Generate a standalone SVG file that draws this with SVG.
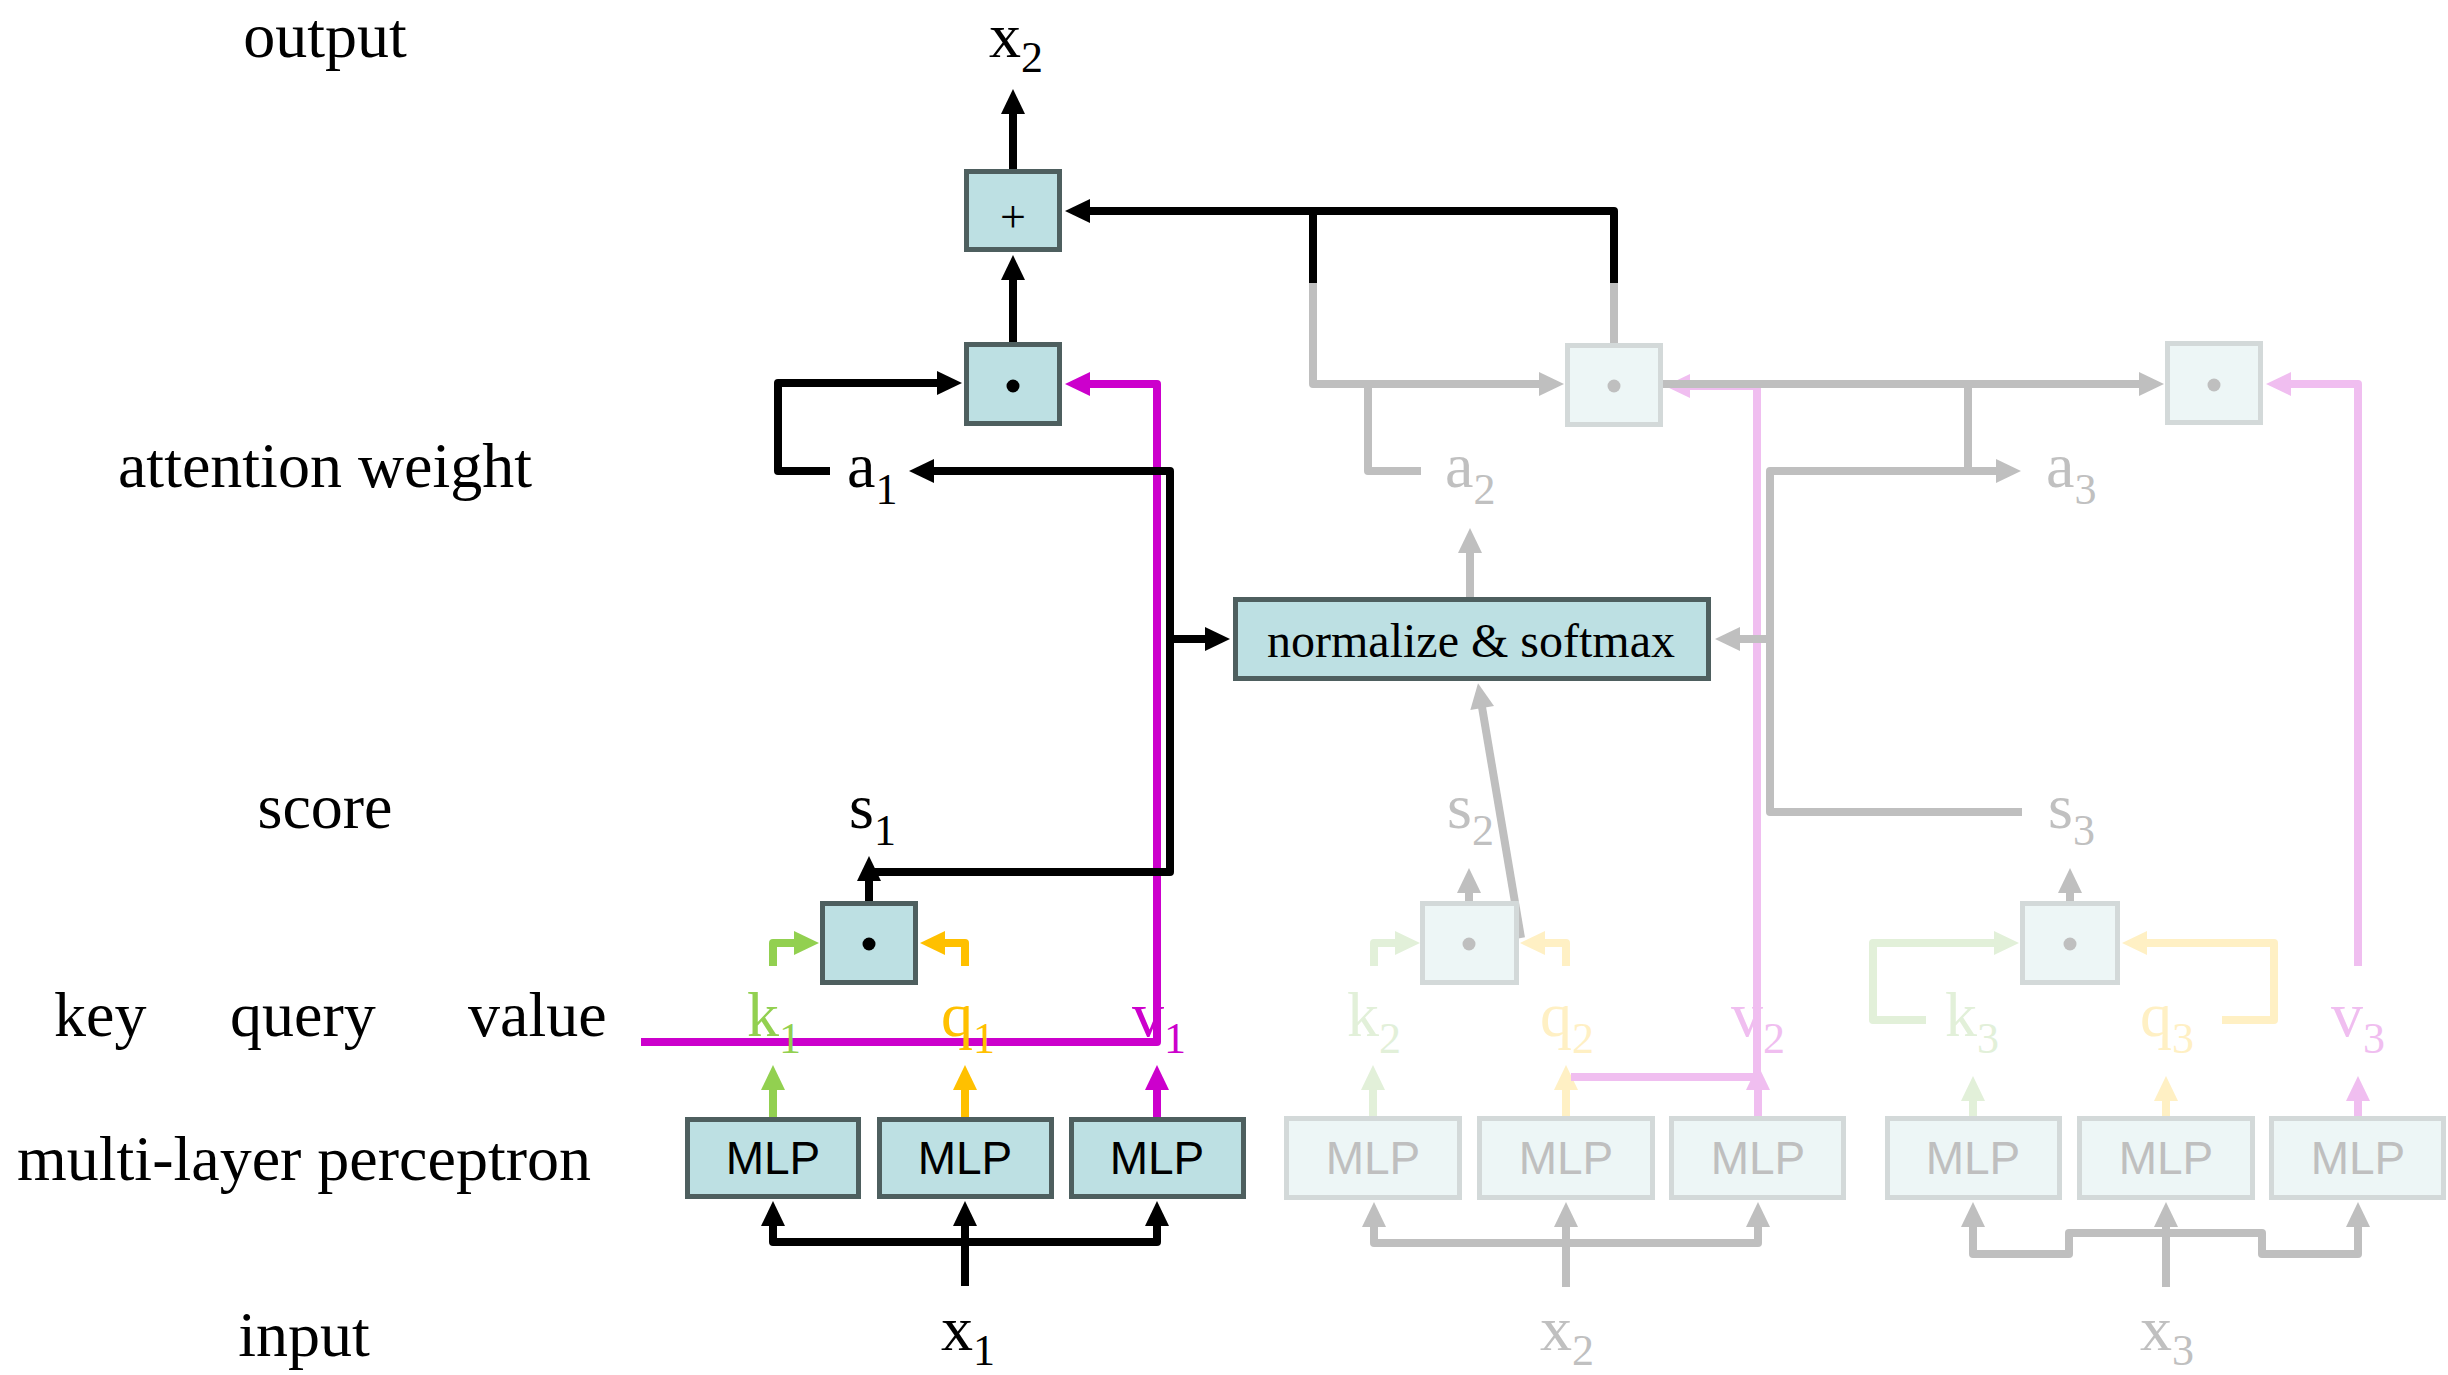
<svg xmlns="http://www.w3.org/2000/svg" width="2448" height="1375" viewBox="0 0 2448 1375">
<style>
.ln{fill:none;stroke-width:8;stroke-linejoin:round;stroke-linecap:butt}
.bk{stroke:#000}.gy{stroke:#BFBFBF}.gn{stroke:#92D050}.og{stroke:#FFC000}.mg{stroke:#CC00CC}
.fgn{stroke:#E2F0D9}.fog{stroke:#FFF0C4}.fmg{stroke:#F0BEF0}
.box{fill:#BDE0E3;stroke:#4E5F5F;stroke-width:5}
.fbox{fill:#EDF6F6;stroke:#D3D9D9;stroke-width:5}
.lbl{font-family:"Liberation Serif","Times New Roman",serif;font-size:64px;fill:#000}
.sub{font-size:44px}
.mlp{font-family:"Liberation Sans",Arial,sans-serif;font-size:46px;text-anchor:middle;fill:#000}
.fmlp{font-family:"Liberation Sans",Arial,sans-serif;font-size:46px;text-anchor:middle;fill:#BFBFBF}
.mid{text-anchor:middle}
.tgy{fill:#C0C0C0}.tgn{fill:#92D050}.tog{fill:#FFC000}.tmg{fill:#CC00CC}
.tfgn{fill:#E2F0D9}.tfog{fill:#FFF0C4}.tfmg{fill:#F0BEF0}
</style>
<defs>
<marker id="aK" markerUnits="userSpaceOnUse" viewBox="0 0 25 24" markerWidth="25" markerHeight="24" refX="1" refY="12" orient="auto" overflow="visible"><path d="M0,0 L25,12 L0,24 Z" fill="#000"/></marker>
<marker id="aG" markerUnits="userSpaceOnUse" viewBox="0 0 25 24" markerWidth="25" markerHeight="24" refX="1" refY="12" orient="auto" overflow="visible"><path d="M0,0 L25,12 L0,24 Z" fill="#BFBFBF"/></marker>
<marker id="aGn" markerUnits="userSpaceOnUse" viewBox="0 0 25 24" markerWidth="25" markerHeight="24" refX="1" refY="12" orient="auto" overflow="visible"><path d="M0,0 L25,12 L0,24 Z" fill="#92D050"/></marker>
<marker id="aOg" markerUnits="userSpaceOnUse" viewBox="0 0 25 24" markerWidth="25" markerHeight="24" refX="1" refY="12" orient="auto" overflow="visible"><path d="M0,0 L25,12 L0,24 Z" fill="#FFC000"/></marker>
<marker id="aMg" markerUnits="userSpaceOnUse" viewBox="0 0 25 24" markerWidth="25" markerHeight="24" refX="1" refY="12" orient="auto" overflow="visible"><path d="M0,0 L25,12 L0,24 Z" fill="#CC00CC"/></marker>
<marker id="aFGn" markerUnits="userSpaceOnUse" viewBox="0 0 25 24" markerWidth="25" markerHeight="24" refX="1" refY="12" orient="auto" overflow="visible"><path d="M0,0 L25,12 L0,24 Z" fill="#E2F0D9"/></marker>
<marker id="aFOg" markerUnits="userSpaceOnUse" viewBox="0 0 25 24" markerWidth="25" markerHeight="24" refX="1" refY="12" orient="auto" overflow="visible"><path d="M0,0 L25,12 L0,24 Z" fill="#FFF0C4"/></marker>
<marker id="aFMg" markerUnits="userSpaceOnUse" viewBox="0 0 25 24" markerWidth="25" markerHeight="24" refX="1" refY="12" orient="auto" overflow="visible"><path d="M0,0 L25,12 L0,24 Z" fill="#F0BEF0"/></marker>
</defs>
<rect width="2448" height="1375" fill="#fff"/>

<g id="row-labels">
<text class="lbl mid" x="325" y="57">output</text>
<text class="lbl mid" x="325" y="487">attention weight</text>
<text class="lbl mid" x="325" y="828">score</text>
<text class="lbl" x="54" y="1036">key</text>
<text class="lbl" x="230" y="1036">query</text>
<text class="lbl" x="468" y="1036">value</text>
<text class="lbl" x="17" y="1180">multi-layer perceptron</text>
<text class="lbl mid" x="304" y="1356">input</text>
</g>

<g id="connectors">
<path class="ln fgn" d="M1373,1116 V1089" marker-end="url(#aFGn)"/>
<path class="ln fog" d="M1566,1116 V1089" marker-end="url(#aFOg)"/>
<path class="ln fmg" d="M1758,1116 V1089" marker-end="url(#aFMg)"/>
<path class="ln fgn" d="M1374,966 V943 H1396" marker-end="url(#aFGn)"/>
<path class="ln fog" d="M1566,966 V943 H1544" marker-end="url(#aFOg)"/>
<path class="ln fmg" d="M1571,1077 H1757 V386 H1689" marker-end="url(#aFMg)"/>
<path class="ln fgn" d="M1973,1116 V1100" marker-end="url(#aFGn)"/>
<path class="ln fog" d="M2166,1116 V1100" marker-end="url(#aFOg)"/>
<path class="ln fmg" d="M2358,1116 V1100" marker-end="url(#aFMg)"/>
<path class="ln fgn" d="M1926,1020 H1873 V943 H1995" marker-end="url(#aFGn)"/>
<path class="ln fog" d="M2222,1020 H2274 V943 H2146" marker-end="url(#aFOg)"/>
<path class="ln fmg" d="M2358,966 V384 H2290" marker-end="url(#aFMg)"/>

<path class="ln gy" d="M1566,1287 V1226" marker-end="url(#aG)"/>
<path class="ln gy" d="M1566,1243 H1374 V1226" marker-end="url(#aG)"/>
<path class="ln gy" d="M1566,1243 H1758 V1226" marker-end="url(#aG)"/>
<path class="ln gy" d="M2166,1287 V1226" marker-end="url(#aG)"/>
<path class="ln gy" d="M2166,1233 H2069 V1254 H1973 V1226" marker-end="url(#aG)"/>
<path class="ln gy" d="M2166,1233 H2262 V1254 H2358 V1226" marker-end="url(#aG)"/>

<path class="ln gy" d="M1469,901 V892" marker-end="url(#aG)"/>
<path class="ln gy" d="M2070,901 V892" marker-end="url(#aG)"/>
<path class="ln gy" d="M1521,938 L1482,707" marker-end="url(#aG)"/>
<path class="ln gy" d="M1470,597 V552" marker-end="url(#aG)"/>
<path class="ln gy" d="M1313,283 V384 H1540" marker-end="url(#aG)"/>
<path class="ln gy" d="M1368,384 V471 H1421"/>
<path class="ln gy" d="M1614,283 V384 H2140" marker-end="url(#aG)"/>
<path class="ln gy" d="M1968,384 V471"/>
<path class="ln gy" d="M2022,812 H1770 V471 H1997" marker-end="url(#aG)"/>
<path class="ln gy" d="M1770,639 H1739" marker-end="url(#aG)"/>

<path class="ln gn" d="M773,1117 V1089" marker-end="url(#aGn)"/>
<path class="ln og" d="M965,1117 V1089" marker-end="url(#aOg)"/>
<path class="ln mg" d="M1157,1117 V1089" marker-end="url(#aMg)"/>
<path class="ln gn" d="M773,966 V943 H795" marker-end="url(#aGn)"/>
<path class="ln og" d="M965,966 V943 H944" marker-end="url(#aOg)"/>
<path class="ln mg" d="M641,1042 H1157 V384 H1089" marker-end="url(#aMg)"/>

<path class="ln bk" d="M965,1286 V1225" marker-end="url(#aK)"/>
<path class="ln bk" d="M965,1242 H773 V1225" marker-end="url(#aK)"/>
<path class="ln bk" d="M965,1242 H1157 V1225" marker-end="url(#aK)"/>
<path class="ln bk" d="M869,901 V880" marker-end="url(#aK)"/>
<path class="ln bk" d="M869,872 H1170 V471 H933" marker-end="url(#aK)"/>
<path class="ln bk" d="M1170,639 H1206" marker-end="url(#aK)"/>
<path class="ln bk" d="M830,471 H778 V383 H938" marker-end="url(#aK)"/>
<path class="ln bk" d="M1013,342 V279" marker-end="url(#aK)"/>
<path class="ln bk" d="M1013,169 V113" marker-end="url(#aK)"/>
<path class="ln bk" d="M1313,283 V211"/>
<path class="ln bk" d="M1614,283 V211 H1089" marker-end="url(#aK)"/>
</g>

<g id="node-plus">
<rect class="box" x="966.5" y="171.5" width="93" height="78"/>
<text class="lbl mid" x="1013" y="232" style="font-size:46px">+</text>
</g>
<g id="node-dot1">
<rect class="box" x="966.5" y="344.5" width="93" height="79"/>
<circle cx="1013" cy="386" r="6.5" fill="#000"/>
</g>
<g id="node-dot2">
<rect class="fbox" x="1567.5" y="345.5" width="93" height="79"/>
<circle cx="1614" cy="386" r="6.5" fill="#BFBFBF"/>
</g>
<g id="node-dot3">
<rect class="fbox" x="2167.5" y="343.5" width="93" height="79"/>
<circle cx="2214" cy="385" r="6.5" fill="#BFBFBF"/>
</g>
<g id="node-normalize">
<rect class="box" x="1235.5" y="599.5" width="473" height="79"/>
<text class="lbl mid" x="1471" y="657" style="font-size:48px">normalize &amp; softmax</text>
</g>
<g id="node-score1">
<rect class="box" x="822.5" y="903.5" width="93" height="79"/>
<circle cx="869" cy="944" r="6.5" fill="#000"/>
</g>
<g id="node-score2">
<rect class="fbox" x="1422.5" y="903.5" width="94" height="79"/>
<circle cx="1469" cy="944" r="6.5" fill="#BFBFBF"/>
</g>
<g id="node-score3">
<rect class="fbox" x="2022.5" y="903.5" width="95" height="79"/>
<circle cx="2070" cy="944" r="6.5" fill="#BFBFBF"/>
</g>

<g id="node-mlp-k1"><rect class="box" x="687.5" y="1119.5" width="171" height="77"/><text class="mlp" x="773" y="1174">MLP</text></g>
<g id="node-mlp-q1"><rect class="box" x="879.5" y="1119.5" width="172" height="77"/><text class="mlp" x="965" y="1174">MLP</text></g>
<g id="node-mlp-v1"><rect class="box" x="1071.5" y="1119.5" width="172" height="77"/><text class="mlp" x="1157" y="1174">MLP</text></g>
<g id="node-mlp-k2"><rect class="fbox" x="1286.5" y="1118.5" width="173" height="79"/><text class="fmlp" x="1373" y="1174">MLP</text></g>
<g id="node-mlp-q2"><rect class="fbox" x="1479.5" y="1118.5" width="173" height="79"/><text class="fmlp" x="1566" y="1174">MLP</text></g>
<g id="node-mlp-v2"><rect class="fbox" x="1671.5" y="1118.5" width="172" height="79"/><text class="fmlp" x="1758" y="1174">MLP</text></g>
<g id="node-mlp-k3"><rect class="fbox" x="1887.5" y="1118.5" width="172" height="79"/><text class="fmlp" x="1973" y="1174">MLP</text></g>
<g id="node-mlp-q3"><rect class="fbox" x="2079.5" y="1118.5" width="173" height="79"/><text class="fmlp" x="2166" y="1174">MLP</text></g>
<g id="node-mlp-v3"><rect class="fbox" x="2271.5" y="1118.5" width="172" height="79"/><text class="fmlp" x="2358" y="1174">MLP</text></g>

<g id="var-labels">
<text class="lbl" x="989" y="57">x<tspan class="sub" dy="15">2</tspan></text>
<text class="lbl" x="847" y="487">a<tspan class="sub" dy="17">1</tspan></text>
<text class="lbl tgy" x="1445" y="487">a<tspan class="sub" dy="17">2</tspan></text>
<text class="lbl tgy" x="2046" y="487">a<tspan class="sub" dy="17">3</tspan></text>
<text class="lbl" x="849" y="828">s<tspan class="sub" dy="17">1</tspan></text>
<text class="lbl tgy" x="1447" y="828">s<tspan class="sub" dy="17">2</tspan></text>
<text class="lbl tgy" x="2048" y="828">s<tspan class="sub" dy="17">3</tspan></text>
<text class="lbl tgn" x="747" y="1036">k<tspan class="sub" dy="17">1</tspan></text>
<text class="lbl tog" x="941" y="1036">q<tspan class="sub" dy="17">1</tspan></text>
<text class="lbl tmg" x="1132" y="1036">v<tspan class="sub" dy="17">1</tspan></text>
<text class="lbl tfgn" x="1347" y="1036">k<tspan class="sub" dy="17">2</tspan></text>
<text class="lbl tfog" x="1540" y="1036">q<tspan class="sub" dy="17">2</tspan></text>
<text class="lbl tfmg" x="1731" y="1036">v<tspan class="sub" dy="17">2</tspan></text>
<text class="lbl tfgn" x="1945" y="1036">k<tspan class="sub" dy="17">3</tspan></text>
<text class="lbl tfog" x="2140" y="1036">q<tspan class="sub" dy="17">3</tspan></text>
<text class="lbl tfmg" x="2331" y="1036">v<tspan class="sub" dy="17">3</tspan></text>
<text class="lbl" x="941" y="1350">x<tspan class="sub" dy="15">1</tspan></text>
<text class="lbl tgy" x="1540" y="1350">x<tspan class="sub" dy="15">2</tspan></text>
<text class="lbl tgy" x="2140" y="1350">x<tspan class="sub" dy="15">3</tspan></text>
</g>
</svg>
